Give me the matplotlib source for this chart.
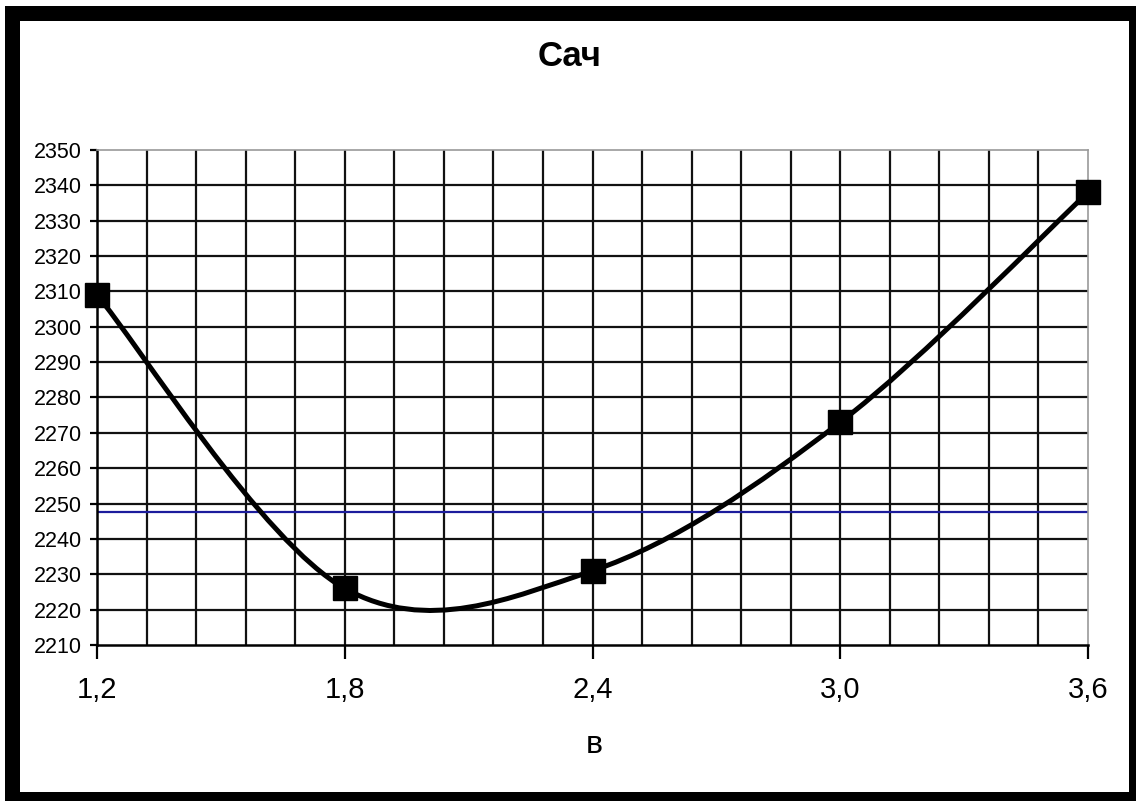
import numpy as np
import matplotlib
matplotlib.use("Agg")
import matplotlib.pyplot as plt
from matplotlib.patches import Rectangle
from matplotlib.path import Path
from matplotlib.patches import PathPatch

# Data
b_values = [1.2, 1.8, 2.4, 3.0, 3.6]
sach_values = [2309, 2226, 2231, 2273, 2338]
reference_level = 2247.5
x_tick_labels = ["1,2", "1,8", "2,4", "3,0", "3,6"]
y_ticks = list(range(2210, 2351, 10))

W, H = 1136, 801
fig = plt.figure(figsize=(W / 100, H / 100), dpi=100)
fig.patch.set_facecolor("white")

ax = fig.add_axes([97 / W, 1 - 645 / H, (1088 - 97) / W, (645 - 150) / H])
ax.set_xlim(b_values[0], b_values[-1])
ax.set_ylim(y_ticks[0], y_ticks[-1])

# Interior grid: 5 columns between labelled x values, one row per y tick
x_grid = np.linspace(b_values[0], b_values[-1], 5 * (len(b_values) - 1) + 1)[1:-1]
ax.vlines(x_grid, y_ticks[0], y_ticks[-1], colors="#111111", linewidth=1.6, zorder=1)
ax.hlines(y_ticks[1:-1], b_values[0], b_values[-1], colors="#111111", linewidth=1.6, zorder=1)

# Smoothed curve (cubic Bezier through the points, Catmull-Rom style tangents)
pts = np.column_stack([b_values, sach_values]).astype(float)
n = len(pts)
verts = [tuple(pts[0])]
codes = [Path.MOVETO]
for i in range(n - 1):
    p0 = pts[i - 1] if i > 0 else pts[i]
    p1 = pts[i]
    p2 = pts[i + 1]
    p3 = pts[i + 2] if i + 2 < n else pts[i + 1]
    c1 = p1 + (p2 - p0) / 6.0
    c2 = p2 - (p3 - p1) / 6.0
    verts += [tuple(c1), tuple(c2), tuple(p2)]
    codes += [Path.CURVE4] * 3
ax.add_patch(PathPatch(Path(verts, codes), facecolor="none", edgecolor="black",
                       linewidth=3.6, zorder=3, capstyle="round", joinstyle="round"))

ax.plot(b_values, sach_values, linestyle="none", marker="s", markersize=17,
        markerfacecolor="black", markeredgecolor="black", zorder=4, clip_on=False)

# Reference level
ax.axhline(reference_level, color="#1c1c9c", linewidth=1.6, zorder=2)

# Spines
for side in ("top", "right"):
    ax.spines[side].set_color("#9a9a9a")
    ax.spines[side].set_linewidth(1.2)
for side in ("left", "bottom"):
    ax.spines[side].set_color("black")
    ax.spines[side].set_linewidth(1.8)

# Ticks
ax.set_xticks(b_values)
ax.set_xticklabels(x_tick_labels, family="Liberation Sans", fontsize=21)
ax.set_yticks(y_ticks)
ax.set_yticklabels([str(v) for v in y_ticks], family="Liberation Sans", fontsize=15.5)
ax.tick_params(axis="x", direction="out", length=10, width=1.6, pad=12, colors="black")
ax.tick_params(axis="y", direction="out", length=5, width=1.6, pad=6, colors="black")

# Titles
fig.text(570 / W, 1 - 56 / H, "Сач", ha="center", va="center",
         family="Liberation Sans", fontweight="bold", fontsize=25)
fig.text(594 / W, 1 - 745 / H, "в", ha="center", va="center",
         family="Liberation Sans", fontsize=23)

# Outer frame
fig.patches.append(Rectangle((11.5 / W, 1 - 799 / H), (1135.5 - 11.5) / W, (799 - 13) / H,
                             transform=fig.transFigure, fill=False, edgecolor="black",
                             linewidth=10.8, joinstyle="miter", zorder=10))

fig.savefig("out.png", dpi=100)
